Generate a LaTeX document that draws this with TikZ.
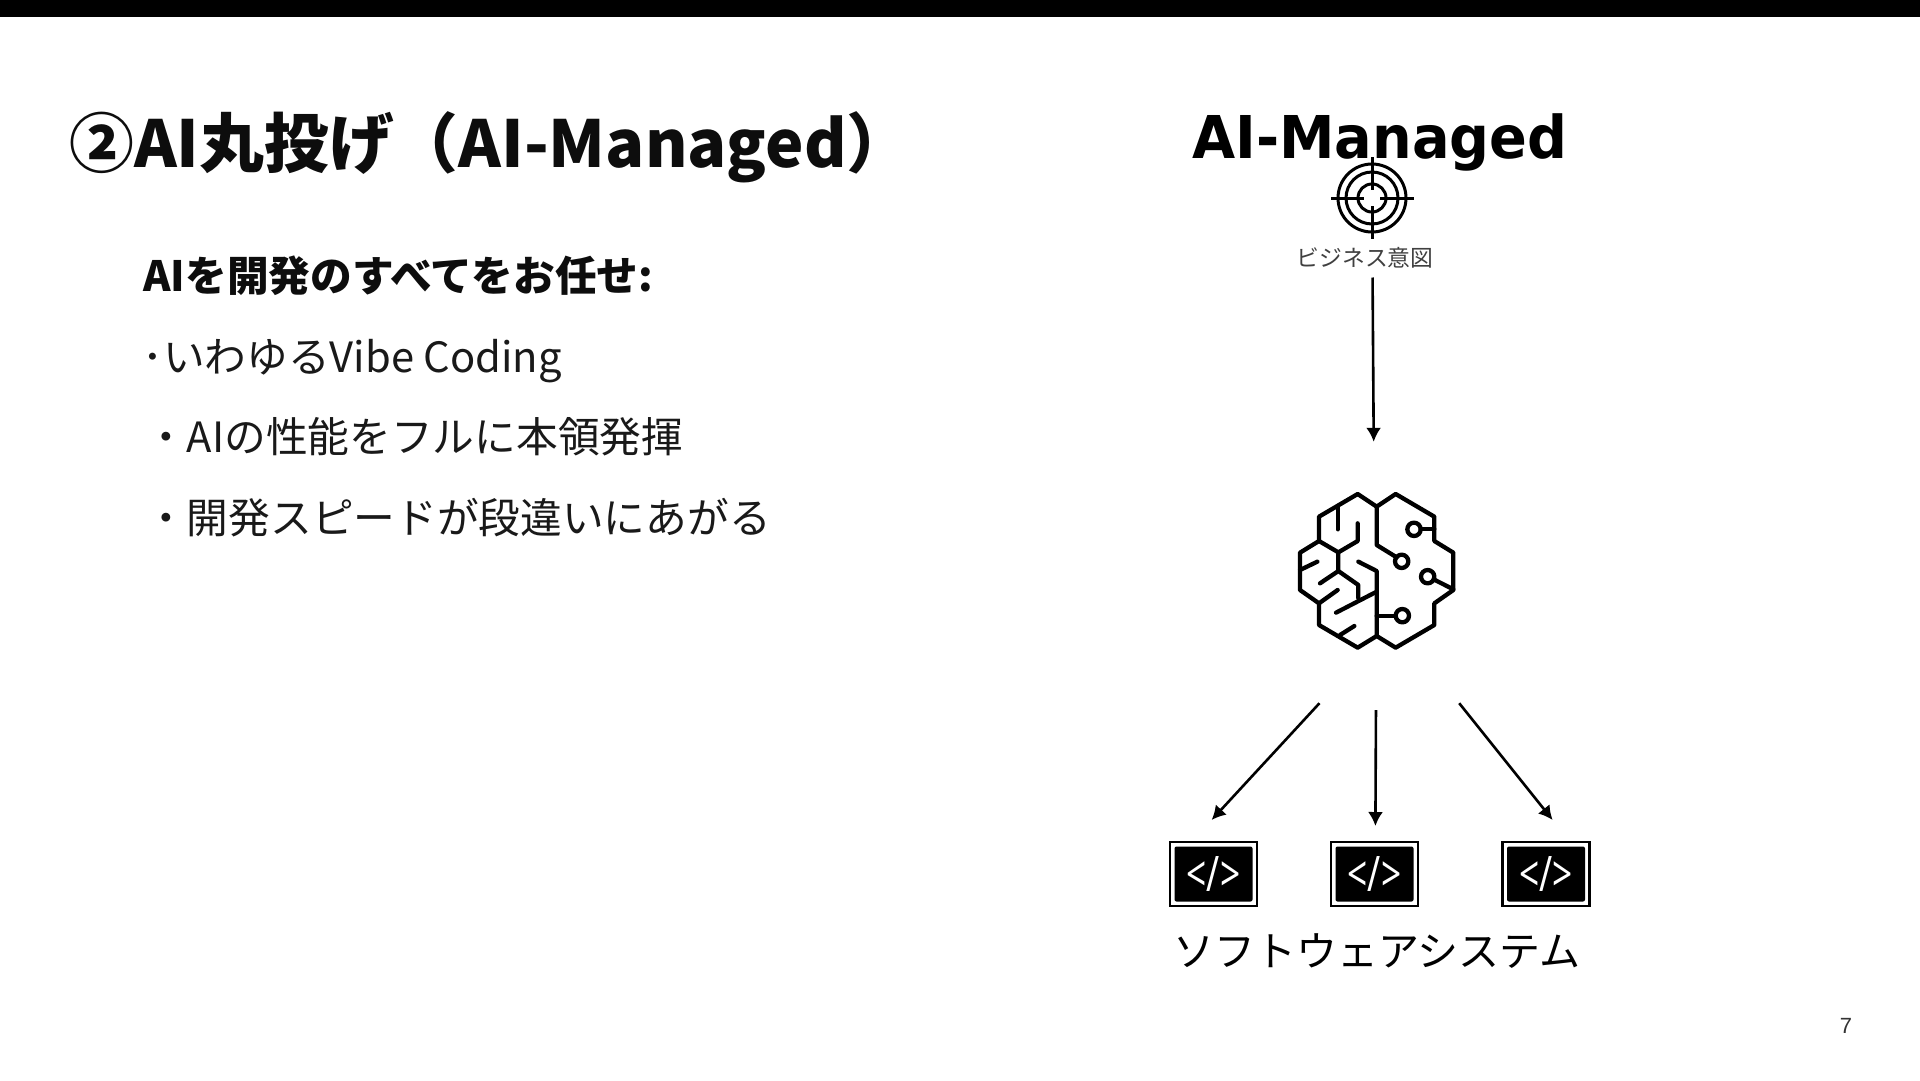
\documentclass[tikz,border=0pt]{standalone}
\usepackage{fontspec}
\setmainfont{Noto Sans CJK JP}
\newfontfamily\logofont{DejaVu Sans}
\newfontfamily\tagfont{Noto Sans}
\newfontfamily\numfont{Liberation Sans}
\usepackage{xcolor}
\usetikzlibrary{arrows.meta,positioning,calc}
\newcommand{\px}[1]{\fontsize{#1}{#1}\selectfont}
\newcommand{\codetag}{\scalebox{.72}[1]{</>}}

\begin{document}
\begin{tikzpicture}[
  x=1pt,y=-1pt,
  every node/.style={inner sep=0pt},
  slidetitle/.style={anchor=base west,font=\px{64.8}\bfseries,text=black!95},
  headline/.style={anchor=base west,font=\px{41.7}\bfseries,text=black!95},
  bodyline/.style={anchor=base west,font=\px{41.7},text=black!90},
  codebox/.style={draw,line width=2.2pt,minimum width=87pt,minimum height=64pt,outer sep=22pt},
  codefill/.style={fill=black,rounded corners=2pt,minimum width=78pt,minimum height=55pt,text=white,font=\tagfont\px{49}},
  ghost/.style={minimum width=166pt,minimum height=266pt},
  ring/.style={draw,circle,line width=3pt,minimum size=#1},
  arr/.style={-{Latex[length=14pt,width=15pt]},line width=2.6pt},
  brainline/.style={line width=4.3pt,line join=round,line cap=round}
]
\useasboundingbox (0,0) rectangle (1920,1080);
\node[fill=black,minimum width=1920pt,minimum height=17pt,anchor=north west] (topbar) at (0,0) {};

% left column
\node[slidetitle] (title) at (69,167) {②AI丸投げ（AI-Managed）};
\node[headline] (lineA) at (143,291) {AIを開発のすべてをお任せ:};
\node[bodyline] (lineB) at (142,372) {･いわゆるVibe Coding};
\node[bodyline] (lineC) at (145,452) {・AIの性能をフルに本領発揮};
\node[bodyline] (lineD) at (145,533) {・開発スピードが段違いにあがる};
\node[font=\numfont\px{22},text=black!80] (pagenum) at (1846,1026) {7};

% right column
\node[font=\logofont\px{59}\bfseries,anchor=base] (logo) at (1380,158) {\scalebox{.945}[1]{AI-Managed}};
\node[ring=68pt] (target) at (1372,198) {};
\node[ring=52pt] (targetB) at (target.center) {};
\node[ring=28pt] (targetC) at (target.center) {};
\draw[line width=3pt] (1331,198) -- (1364,198) (1380,198) -- (1414,198)
  (1372,157) -- (1372,190) (1372,206) -- (1372,239);
\node[font=\px{22.8},text=black!75] (intent) at (1365,258) {ビジネス意図};

\node[ghost] (brain) at (1376,570) {};
\begin{scope}[shift={(1260,470)},scale=1/3,brainline]
\draw (293,72) -- (350,110) -- (407,72) -- (523,140) -- (523,213) -- (580,248) -- (580,360)
  -- (523,400) -- (523,465) -- (407,533) -- (350,498) -- (293,533) -- (177,465) -- (177,400)
  -- (120,360) -- (120,248) -- (177,213) -- (177,140) -- cycle;
\draw (350,110) -- (350,225) -- (410,262);
\draw (425,274) circle[radius=20];
\draw (523,178) -- (482,178);
\draw (462,178) circle[radius=20];
\draw (580,358) -- (521,328);
\draw (503,320) circle[radius=20];
\draw (350,437) -- (407,437);
\draw (427,437) circle[radius=20];
\draw (295,275) -- (350,303) -- (350,498);
\draw (177,213) -- (235,247) -- (293,213) -- (293,160);
\draw (233,110) -- (233,178);
\draw (235,247) -- (235,303) -- (295,345) -- (295,385);
\draw (235,303) -- (180,340);
\draw (120,300) -- (172,275);
\draw (177,400) -- (233,360);
\draw (350,365) -- (228,428);
\draw (240,495) -- (283,468);
\end{scope}

\node[codebox] (codeA) at (1213.5,874) {};
\node[codebox] (codeB) at (1374.5,874) {};
\node[codebox] (codeC) at (1546,874) {};
\node[codefill] (tagA) at (codeA.center) {\codetag};
\node[codefill] (tagB) at (codeB.center) {\codetag};
\node[codefill] (tagC) at (codeC.center) {\codetag};
\node[font=\px{41}] (system) at (1377,951) {ソフトウェアシステム};

\draw[arr,shorten <=44pt,shorten >=-5pt] (target) -- (brain.91);
\draw[arr] (brain.247.5) -- (codeA.92);
\draw[arr,shorten <=7pt,shorten >=-6pt] (brain.south) -- (codeB.89);
\draw[arr] (brain.south east) -- (codeC.83);
\end{tikzpicture}
\end{document}
